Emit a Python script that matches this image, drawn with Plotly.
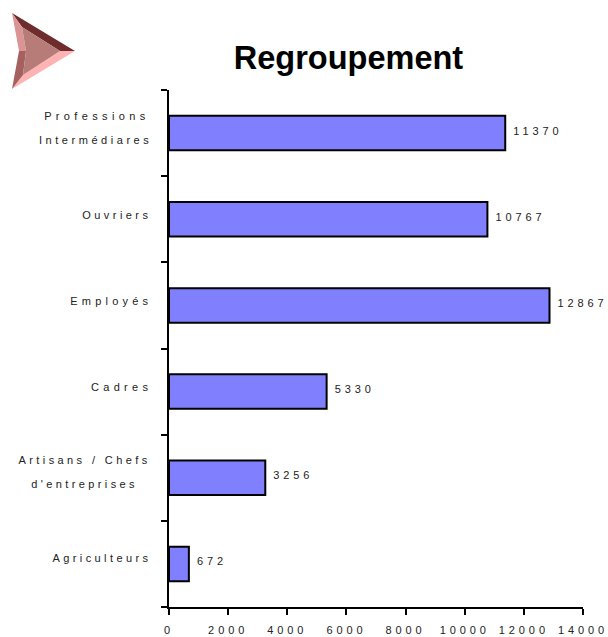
import plotly.graph_objects as go

categories = ["Agriculteurs", "Artisans / Chefs<br>d'entreprises", "Cadres", "Employés", "Ouvriers", "Professions<br>Intermédiares"]
values = [672, 3256, 5330, 12867, 10767, 11370]
title_text = "Regroupement"
x_ticks = [0, 2000, 4000, 6000, 8000, 10000, 12000, 14000]

W, H = 608, 637
L, R, T, B = 169, 25, 90, 30
pw, ph = W - L - R, H - T - B
FONT = "Liberation Sans, Arial, sans-serif"
FS = 11
TXT = "#222222"

def path(pts):
    c = [((x - L) / pw, 1 - (y - T) / ph) for x, y in pts]
    return "M " + " L ".join(f"{a:.4f},{b:.4f}" for a, b in c) + " Z"

arrow_faces = [
    ([(12, 13), (75, 51), (60, 51), (22, 27)], "#6E2C2C"),
    ([(12, 89), (75, 51), (60, 51), (23, 75)], "#FFB3B3"),
    ([(12, 13), (22, 27), (26, 51), (19, 51)], "#DB9494"),
    ([(12, 89), (19, 51), (26, 51), (23, 75)], "#A56060"),
    ([(22, 27), (60, 51), (23, 75), (26, 51)], "#B87C78"),
]
shapes = [dict(type="path", xref="paper", yref="paper", path=path(p), fillcolor=c,
               line=dict(width=0), layer="above") for p, c in arrow_faces]

fig = go.Figure(go.Bar(
    y=categories, x=values, orientation="h", width=0.4,
    marker=dict(color="#8080FF", line=dict(color="black", width=2)),
    text=[str(v) for v in values], textposition="outside", constraintext="none",
    cliponaxis=False, textangle=0,
    textfont=dict(family=FONT, size=FS, color=TXT),
    hoverinfo="skip",
))
fig.update_layout(
    width=W, height=H, autosize=False, plot_bgcolor="white", paper_bgcolor="white",
    margin=dict(l=L, r=R, t=T, b=B, pad=0), showlegend=False, shapes=shapes,
    title=dict(text=f"<b>{title_text}</b>", x=348.5 / W, xanchor="center", y=1 - 58 / H, yanchor="middle",
               automargin=False, font=dict(family=FONT, size=32.5, color="black")),
    font=dict(family=FONT, size=FS, color=TXT),
)
fig.update_xaxes(range=[0, 14000], tickvals=x_ticks, ticks="outside", ticklen=6, tickwidth=2, automargin=False,
                 tickcolor="black", showline=True, linecolor="black", linewidth=2, showgrid=False,
                 zeroline=False, tickformat="d", ticklabelstandoff=6, tickfont=dict(family=FONT, size=FS, color=TXT))
fig.update_yaxes(type="category", tickson="boundaries", ticks="outside", ticklen=6, tickwidth=2, automargin=False,
                 tickcolor="black", showline=True, linecolor="black", linewidth=2, showgrid=False,
                 zeroline=False, tickfont=dict(family=FONT, size=FS, color=TXT))

post = """
var SP=3.9;
var LS={"Professions":4.35,"Intermédiares":3.55,"Artisans / Chefs":3.4,"d'entreprises":3.4,
        "Ouvriers":3.45,"Employés":4.2,"Cadres":4.3,"Agriculteurs":3.4};
var s=document.createElement('style');
s.textContent='html,body{margin:0;padding:0}.xtick text,text.bartext{letter-spacing:'+SP+'px}';
document.head.appendChild(s);
document.querySelectorAll('.ytick text').forEach(function(t){
  var y=parseFloat(t.getAttribute('y'));
  var ls=t.querySelectorAll('tspan.line');
  if(ls.length>1){
    var w=0;
    ls.forEach(function(l){l.style.letterSpacing=(LS[l.textContent]||3.5)+'px';w=Math.max(w,l.getComputedTextLength());});
    var right=(t.textContent.indexOf('Artisans')>=0)?145.5:147;
    ls.forEach(function(l,i){var sp=LS[l.textContent]||3.5;
      l.setAttribute('y',y+(i?24:0)-10);l.removeAttribute('dy');
      l.setAttribute('x',right+sp-w/2+sp/2);l.setAttribute('text-anchor','middle');});
  } else {
    var sp=LS[t.textContent]||3.5; t.style.letterSpacing=sp+'px';
    t.setAttribute('y',y-(t.textContent=='Agriculteurs'?6:4)); t.setAttribute('x',148+sp);
  }
});
document.querySelectorAll('text.bartext').forEach(function(t){
  var n=t.textContent.length;
  t.setAttribute('x',parseFloat(t.getAttribute('x'))+5+n*SP/2);
  t.setAttribute('y',parseFloat(t.getAttribute('y'))-2.5);
});
"""
fig.write_html("out.html", post_script=post, config={"displayModeBar": False})
